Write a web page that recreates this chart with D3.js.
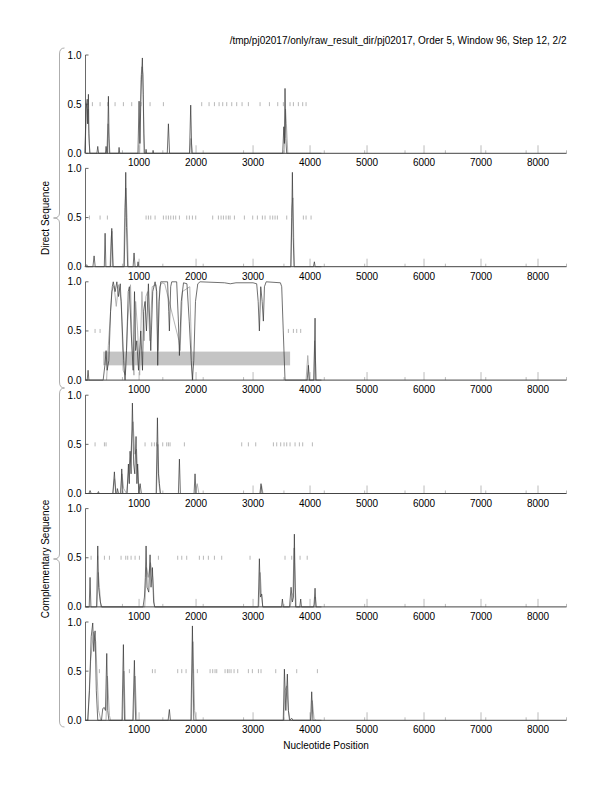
<!DOCTYPE html>
<html>
<head>
<meta charset="utf-8">
<script src="https://cdn.jsdelivr.net/npm/d3@7"></script>
<style>
  body { margin: 0; background: #fff; }
  text { font-family: "Liberation Sans", Arial, sans-serif; fill: #000; }
</style>
</head>
<body>
<svg width="612" height="792"></svg>
<script>
const title = "/tmp/pj02017/only/raw_result_dir/pj02017, Order 5, Window 96, Step 12, 2/2";
const xTicks = [1000, 2000, 3000, 4000, 5000, 6000, 7000, 8000];
const yTicks = [0, 0.5, 1.0];
const seqLength = 8500;
const stepCount = 12;

// panel 1
const d1Pos = [50, 70, 90, 100, 111, 120, 135, 260, 275, 290, 410, 421, 435, 445, 462, 478, 640, 649, 660, 980, 1000, 1015, 1030, 1045, 1058, 1072, 1090, 1115, 1123, 1132, 1238, 1246, 1255, 1495, 1515, 1535, 1885, 1906, 1925, 3520, 3540, 3550, 3561, 3575, 3590, 4200];
const d1Val = [0, 0.45, 0.55, 0.3, 0.6, 0.2, 0, 0, 0.07, 0, 0, 0.07, 0, 0, 0.58, 0, 0, 0.06, 0, 0, 0.53, 0.1, 0.5, 0.8, 0.97, 0.6, 0, 0, 0.04, 0, 0, 0.03, 0, 0, 0.3, 0, 0, 0.49, 0, 0, 0.27, 0.1, 0.66, 0.15, 0, 0];
const g1Pos = [50, 80, 95, 105, 125, 140, 430, 455, 470, 490, 1010, 1030, 1050, 1070, 1085, 1100, 1890, 1910, 1940, 3545, 3570, 3585, 3610];
const g1Val = [0, 0.5, 0.3, 0.45, 0.1, 0, 0, 0.3, 0.15, 0, 0, 0.75, 0.88, 0.8, 0.2, 0, 0, 0.15, 0, 0, 0.45, 0.3, 0];
const m1 = [181, 316, 450, 579, 725, 871, 1035, 1193, 1427, 2099, 2228, 2322, 2404, 2468, 2538, 2626, 2713, 2807, 2918, 3123, 3287, 3433, 3532, 3649, 3708, 3795, 3871, 3930];

// panel 2
const d2Pos = [50, 80, 100, 190, 211, 230, 390, 404, 418, 500, 521, 540, 740, 755, 766, 780, 800, 895, 912, 930, 970, 982, 995, 3665, 3680, 3690, 3705, 3720, 4060, 4076, 4090, 4200];
const d2Val = [0, 0.02, 0, 0, 0.11, 0, 0, 0.34, 0, 0, 0.39, 0, 0, 0.5, 0.96, 0.4, 0, 0, 0.14, 0, 0, 0.05, 0, 0, 0.5, 0.96, 0.3, 0, 0, 0.05, 0, 0];
const g2Pos = [490, 510, 525, 550, 730, 750, 770, 790, 810, 3660, 3680, 3700, 3725];
const g2Val = [0, 0.3, 0.36, 0, 0, 0.6, 0.8, 0.5, 0, 0, 0.6, 0.7, 0];
const m2 = [129, 316, 444, 1123, 1164, 1205, 1281, 1427, 1474, 1515, 1556, 1602, 1643, 1708, 1836, 1883, 1936, 1994, 2292, 2392, 2439, 2480, 2526, 2567, 2597, 2673, 2848, 2994, 3076, 3164, 3211, 3298, 3345, 3386, 3427, 3591, 3883, 3930, 4018];

// panel 3 (null = gap in the trace)
const d3Pos = [50, 90, 105, 120, 370, 400, 421, 440, 470, 500, 530, 547, 580, 610, 640, 670, 700, 730, 754, 780, 810, 830, 860, 896, 920, 940, 960, 990, 1030, 1060, 1080, 1105, 1130, 1164, 1205, 1240, 1281, 1310, 1327, 1350, 1380, 1500, 1520, 1532, 1555, 1573, 1660, 1690, 1708, 1740, 1780, 1840, 1880, 1915, 1936, 1960, 1990, 2030, 2070, 2500, 2600, 2700, 3000, 3064, 3090, 3111, 3135, 3160, 3181, 3200, 3230, 3480, 3503, 3530, 3561, 3950, 3971, 3985, 4070, 4088, 4100, 4200];
const d3Val = [0, 0, 0.1, 0, 0, 0.15, 0.3, 0.1, 0.2, 0.7, 0.95, 1.0, 0.9, 1.0, 0.85, 0.98, 0.6, 0.2, 0, 0.3, 0.9, 0.95, 0.5, 0.1, 0.9, 0.3, 0.4, 0.1, 0.5, 0.1, 0.7, 0.8, 0.5, 0.98, 0.3, 0.9, 1.0, 0.9, 0.15, 0.8, 1.0, 1.0, 0.7, 0.5, 0.95, 1.0, 1.0, 0.6, 0.25, 0.8, 0.99, 0.98, 0.6, 0.2, 0, 0.2, 0.8, 0.98, 1.0, 0.99, 0.98, 0.99, 0.99, 0.98, 0.8, 0.5, 0.95, 0.8, 0.6, 0.95, 1.0, 0.99, 0.95, 0.5, 0, 0, 0.15, 0, 0, 0.63, 0, 0];
const g3Pos = [430, 460, 490, 520, 560, 600, 640, 690, 720, 760, 800, 850, 880, 910, 940, 975, 1010, 1050, 1090, 1120, 1150, 1190, 1230, 1300, 1330, 1360, 1400, 1450, 1700, 1720, 1760, 1890, 1930, 1945, 1950, 3930, 3960, 3990, 4060, 4080, 4095, 4110];
const g3Val = [0, 0.35, 0.6, 0.9, 0.96, 0.75, 0.97, 0.8, 0.1, 0.05, 0.6, 0.97, 0.3, 0.05, 0.8, 0.5, 0.05, 0.9, 0.4, 0.85, 0.9, 0.4, 0.95, 0.97, 0.3, 0.95, 0.99, 0.98, 0.4, 0.3, 0.9, 0.95, 0.1, 0, null, 0, 0.25, 0, 0, 0.4, 0.2, 0];
const m3 = [228, 316, 3620, 3708, 3766, 3836];
const band3 = { x0: 370, x1: 3650, y0: 0.15, y1: 0.29 };

// panel 4
const d4Pos = [50, 120, 140, 160, 270, 287, 300, 540, 567, 590, 610, 620, 640, 680, 696, 715, 790, 813, 828, 842, 860, 883, 905, 925, 947, 962, 975, 995, 1018, 1040, 1300, 1322, 1340, 1357, 1375, 1690, 1708, 1725, 1965, 1982, 2000, 3120, 3140, 3160, 4200];
const d4Val = [0, 0, 0.03, 0, 0, 0.02, 0, 0, 0.22, 0, 0, 0.05, 0, 0, 0.25, 0, 0, 0.3, 0.1, 0.43, 0.2, 0.92, 0.3, 0.2, 0.58, 0.1, 0.3, 0, 0.1, 0, 0, 0.77, 0.2, 0.1, 0, 0, 0.35, 0, 0, 0.2, 0, 0, 0.1, 0, 0];
const g4Pos = [540, 570, 600, 670, 700, 730, 780, 820, 850, 895, 925, 955, 990, 1010, 1305, 1330, 1350, 1370, 1990, 2020, 2050, 3130, 3150, 3175];
const g4Val = [0, 0.15, 0, 0, 0.2, 0.05, 0, 0.25, 0.38, 0.73, 0.4, 0.45, 0.1, 0, 0, 0.5, 0.1, 0, 0, 0.1, 0, 0, 0.08, 0];
const m4 = [228, 392, 421, 1105, 1222, 1269, 1310, 1415, 1485, 1515, 1544, 1795, 2801, 2918, 3047, 3357, 3415, 3485, 3544, 3591, 3649, 3737, 3813, 3871, 4041];

// panel 5
const d5Pos = [50, 125, 140, 155, 255, 275, 290, 320, 345, 1070, 1094, 1110, 1123, 1140, 1170, 1193, 1210, 1234, 1255, 1275, 3090, 3111, 3130, 3152, 3170, 3500, 3515, 3530, 3640, 3667, 3690, 3710, 3725, 3745, 3820, 3836, 3850, 4060, 4070, 4088, 4105, 4200];
const d5Val = [0, 0, 0.3, 0, 0, 0.62, 0.2, 0.05, 0, 0, 0.1, 0.3, 0.62, 0.2, 0.15, 0.53, 0.2, 0.4, 0.05, 0, 0, 0.49, 0.1, 0.13, 0, 0, 0.08, 0, 0, 0.2, 0.05, 0.1, 0.74, 0, 0, 0.08, 0, 0, 0.02, 0.19, 0, 0];
const g5Pos = [260, 285, 305, 330, 1100, 1130, 1160, 1200, 1240, 1270, 3100, 3125, 3145, 3170, 3650, 3700, 3720, 3740, 3760, 4070, 4090, 4110];
const g5Val = [0, 0.35, 0.2, 0, 0, 0.4, 0.3, 0.45, 0.3, 0, 0, 0.35, 0.15, 0, 0, 0.15, 0.6, 0.2, 0, 0, 0.1, 0];
const m5 = [158, 275, 392, 480, 684, 766, 801, 860, 930, 1006, 1339, 1678, 1749, 1836, 2058, 2129, 2216, 2322, 2450, 2947, 3561, 3678, 3825, 3950];

// panel 6
const d6Pos = [50, 100, 130, 160, 187, 205, 228, 250, 275, 340, 363, 390, 410, 433, 450, 470, 700, 725, 745, 890, 918, 940, 1510, 1532, 1550, 1910, 1936, 1960, 3530, 3550, 3575, 3602, 3620, 3640, 3680, 3700, 4010, 4029, 4050, 4200];
const d6Val = [0, 0, 0.3, 0.85, 0.99, 0.7, 0.91, 0.3, 0, 0, 0.12, 0.13, 0.1, 0.68, 0.1, 0, 0, 0.77, 0, 0, 0.61, 0, 0, 0.11, 0, 0, 0.96, 0, 0, 0.52, 0.1, 0.47, 0.1, 0, 0.02, 0, 0, 0.29, 0, 0];
const g6Pos = [100, 150, 200, 240, 290, 330, 420, 445, 480, 500, 710, 735, 760, 900, 930, 960, 1920, 1945, 1975, 2000, 3540, 3560, 3590, 3620, 3650, 4015, 4040, 4070, 4100];
const g6Val = [0, 0.6, 0.9, 0.8, 0.1, 0, 0, 0.45, 0.05, 0, 0, 0.5, 0, 0, 0.45, 0, 0, 0.8, 0.1, 0, 0, 0.3, 0.35, 0.1, 0, 0, 0.2, 0.02, 0];
const m6 = [304, 830, 1234, 1281, 1678, 1749, 1825, 1953, 2023, 2246, 2292, 2333, 2363, 2509, 2550, 2579, 2614, 2667, 2731, 2918, 2988, 3094, 3140, 3398, 3766, 4129];

const panels = [
  { dark: [d1Pos, d1Val], grey: [g1Pos, g1Val], marks: m1 },
  { dark: [d2Pos, d2Val], grey: [g2Pos, g2Val], marks: m2 },
  { dark: [d3Pos, d3Val], grey: [g3Pos, g3Val], marks: m3, band: band3 },
  { dark: [d4Pos, d4Val], grey: [g4Pos, g4Val], marks: m4 },
  { dark: [d5Pos, d5Val], grey: [g5Pos, g5Val], marks: m5 },
  { dark: [d6Pos, d6Val], grey: [g6Pos, g6Val], marks: m6 }
];

const svg = d3.select('svg');
svg.append('rect').attr('width', 612).attr('height', 792).attr('fill', '#fff');

// layout
const left = 85.5, right = 566.5;
const firstTop = 55, panelStep = 113.4, panelH = 98.3;

const x = d3.scaleLinear().domain([60, seqLength]).range([left, right]);
const minorTicks = d3.range(1, stepCount + 1).map(k => k * seqLength / stepCount);

svg.append('text')
  .attr('x', right).attr('y', 44)
  .attr('text-anchor', 'end')
  .style('font-size', '10px')
  .text(title);

panels.forEach((p, i) => {
  const top = firstTop + i * panelStep;
  const y = d3.scaleLinear().domain([0, 1]).range([top + panelH, top]);
  const g = svg.append('g');

  // grid ticks rising from the x axis
  g.selectAll('.major').data(xTicks).enter().append('line')
    .attr('x1', d => x(d)).attr('x2', d => x(d))
    .attr('y1', y(0)).attr('y2', y(0) - 8)
    .attr('stroke', '#aaa').attr('stroke-width', 0.8);
  g.selectAll('.minor').data(minorTicks).enter().append('line')
    .attr('x1', d => x(d)).attr('x2', d => x(d))
    .attr('y1', y(0)).attr('y2', y(0) - 3)
    .attr('stroke', '#aaa').attr('stroke-width', 0.8);

  if (p.band) {
    g.append('rect')
      .attr('x', x(p.band.x0)).attr('width', x(p.band.x1) - x(p.band.x0))
      .attr('y', y(p.band.y1)).attr('height', y(p.band.y0) - y(p.band.y1))
      .attr('fill', '#c4c4c4');
  }

  // marks on the 0.5 line
  g.selectAll('.mark').data(p.marks).enter().append('line')
    .attr('x1', d => x(d)).attr('x2', d => x(d))
    .attr('y1', y(0.5) - 2).attr('y2', y(0.5) + 2)
    .attr('stroke', '#999').attr('stroke-width', 0.7);

  const line = d3.line()
    .defined(d => d[1] != null)
    .x(d => x(d[0])).y(d => y(d[1]));
  const toPts = s => s[0].map((v, k) => [v, s[1][k]]);

  g.append('path').datum(toPts(p.grey))
    .attr('d', line).attr('fill', 'none')
    .attr('stroke', '#aaa').attr('stroke-width', 0.9);
  g.append('path').datum(toPts(p.dark))
    .attr('d', line).attr('fill', 'none')
    .attr('stroke', '#333').attr('stroke-width', 0.7);

  // axes
  g.append('line')
    .attr('x1', left).attr('x2', right).attr('y1', y(0)).attr('y2', y(0))
    .attr('stroke', '#444').attr('stroke-width', 1);
  g.append('line')
    .attr('x1', left).attr('x2', left).attr('y1', y(0)).attr('y2', y(1))
    .attr('stroke', '#444').attr('stroke-width', 0.8);
  g.selectAll('.ytick').data(yTicks).enter().append('line')
    .attr('x1', left).attr('x2', left + 3)
    .attr('y1', d => y(d)).attr('y2', d => y(d))
    .attr('stroke', '#444').attr('stroke-width', 0.8);

  g.selectAll('.ylab').data(yTicks).enter().append('text')
    .attr('x', left - 4).attr('y', d => y(d) + 3.5)
    .attr('text-anchor', 'end')
    .style('font-size', '10px')
    .text(d => d3.format('.1f')(d));

  g.selectAll('.xlab').data(xTicks).enter().append('text')
    .attr('x', d => x(d)).attr('y', y(0) + 13)
    .attr('text-anchor', 'middle')
    .style('font-size', '10px')
    .text(d => d);
});

// braces grouping the panels
function brace(y0, yMid, y1) {
  const bx = 59.5;
  return `M${bx + 5},${y0} Q${bx},${y0} ${bx},${y0 + 6} L${bx},${yMid - 5} Q${bx},${yMid} ${bx - 6},${yMid} ` +
    `Q${bx},${yMid} ${bx},${yMid + 5} L${bx},${y1 - 6} Q${bx},${y1} ${bx + 5},${y1}`;
}
svg.append('path').attr('d', brace(48, 218, 388))
  .attr('fill', 'none').attr('stroke', '#999').attr('stroke-width', 0.8);
svg.append('path').attr('d', brace(388, 559, 727))
  .attr('fill', 'none').attr('stroke', '#999').attr('stroke-width', 0.8);

svg.append('text')
  .attr('transform', 'translate(49,218) rotate(-90)')
  .attr('text-anchor', 'middle')
  .style('font-size', '10px')
  .text('Direct Sequence');
svg.append('text')
  .attr('transform', 'translate(49,559) rotate(-90)')
  .attr('text-anchor', 'middle')
  .style('font-size', '10px')
  .text('Complementary Sequence');

svg.append('text')
  .attr('x', 326).attr('y', 749)
  .attr('text-anchor', 'middle')
  .style('font-size', '10px')
  .text('Nucleotide Position');
</script>
</body>
</html>
